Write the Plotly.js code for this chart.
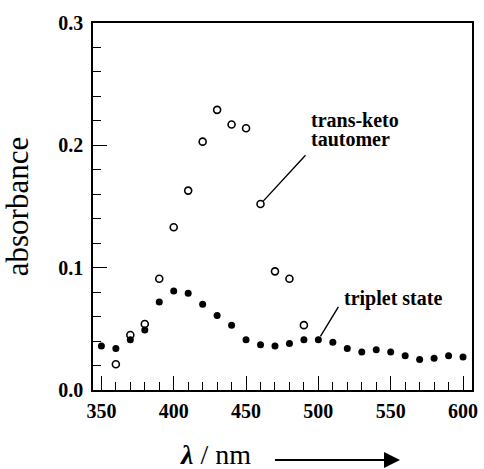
<!DOCTYPE html>
<html>
<head>
<meta charset="utf-8">
<script src="https://cdn.plot.ly/plotly-3.0.1.min.js"></script>
<style>html,body{margin:0;padding:0;background:#fff}</style>
</head>
<body>
<div id="chart" style="width:484px;height:469px"></div>
<script>
// wavelengths (nm) and absorbances
const tripletWavelength = [350,360,370,380,390,400,410,420,430,440,450,460,470,480,490,500,510,520,530,540,550,560,570,580,590,600];
const tripletAbsorbance = [0.036,0.034,0.041,0.049,0.072,0.081,0.079,0.070,0.061,0.053,0.041,0.037,0.036,0.038,0.041,0.041,0.039,0.034,0.031,0.033,0.031,0.028,0.025,0.026,0.028,0.027];
const ketoWavelength = [360,370,380,390,400,410,420,430,440,450,460,470,480,490];
const ketoAbsorbance = [0.021,0.045,0.054,0.091,0.133,0.163,0.203,0.229,0.217,0.214,0.152,0.097,0.091,0.053];
const xTick = {start: 350, major: 50, minor: 10};
const yTick = {start: 0, major: 0.1, minor: 0.02, format: '.1f'};
const xRange = [344.2, 606.2];
const yRange = [0, 0.3];

const ink = 'black';
const serif = 'Liberation Serif, Times New Roman, serif';

const traces = [
  {
    x: tripletWavelength, y: tripletAbsorbance, type: 'scatter', mode: 'markers',
    name: 'triplet state', xaxis: 'x', yaxis: 'y',
    marker: {symbol: 'circle', size: 7, color: ink}
  },
  {
    x: ketoWavelength, y: ketoAbsorbance, type: 'scatter', mode: 'markers',
    name: 'trans-keto tautomer', xaxis: 'x2', yaxis: 'y2',
    marker: {symbol: 'circle-open', size: 7, color: ink, line: {width: 1.6, color: ink}}
  }
];

function axis(extra) {
  return Object.assign({
    showgrid: false, zeroline: false, showline: false,
    ticks: 'inside', tickwidth: 1.3, tickcolor: ink, showticklabels: false,
    tickfont: {family: serif, size: 20, color: ink, weight: 'bold'}
  }, extra);
}

const layout = {
  width: 484, height: 469,
  margin: {l: 93, r: 12, t: 23, b: 79},
  paper_bgcolor: '#ffffff', plot_bgcolor: '#ffffff',
  showlegend: false,
  // main axes: frame, labelled major ticks
  xaxis: axis({
    range: xRange, showline: true, linecolor: ink, linewidth: 1.5, mirror: true,
    tickmode: 'linear', tick0: xTick.start, dtick: xTick.major, ticklen: 14,
    showticklabels: true, ticklabelstandoff: 2
  }),
  yaxis: axis({
    range: yRange, showline: true, linecolor: ink, linewidth: 1.5, mirror: true,
    tickmode: 'linear', tick0: yTick.start, dtick: yTick.major, tickformat: yTick.format, ticklen: 14,
    showticklabels: true, ticklabelstandoff: 4,
    title: {text: 'absorbance', font: {family: serif, size: 31, color: ink}, standoff: 20}
  }),
  // minor ticks, bottom / left
  xaxis2: axis({range: xRange, overlaying: 'x', anchor: 'y2', side: 'bottom',
    tickmode: 'linear', tick0: xTick.start, dtick: xTick.minor, ticklen: 8}),
  yaxis2: axis({range: yRange, overlaying: 'y', anchor: 'x2', side: 'left',
    tickmode: 'linear', tick0: yTick.start, dtick: yTick.minor, ticklen: 8}),
  // minor and major ticks, top / right
  xaxis3: axis({range: xRange, overlaying: 'x', anchor: 'y', side: 'top',
    tickmode: 'linear', tick0: xTick.start, dtick: xTick.minor, ticklen: 8}),
  xaxis4: axis({range: xRange, overlaying: 'x', anchor: 'y', side: 'top',
    tickmode: 'linear', tick0: xTick.start, dtick: xTick.major, ticklen: 14}),
  yaxis3: axis({range: yRange, overlaying: 'y', anchor: 'x', side: 'right',
    tickmode: 'linear', tick0: yTick.start, dtick: yTick.minor, ticklen: 8}),
  yaxis4: axis({range: yRange, overlaying: 'y', anchor: 'x', side: 'right',
    tickmode: 'linear', tick0: yTick.start, dtick: yTick.major, ticklen: 14}),
  annotations: [
    {xref: 'paper', yref: 'paper', x: 0.5726, y: 0.7357, xanchor: 'left', yanchor: 'middle', borderpad: 0,
     text: '<b>trans-keto</b>', showarrow: false, font: {family: serif, size: 20, color: ink}},
    {xref: 'paper', yref: 'paper', x: 0.5726, y: 0.6839, xanchor: 'left', yanchor: 'middle', borderpad: 0,
     text: '<b>tautomer</b>', showarrow: false, font: {family: serif, size: 20, color: ink}},
    {xref: 'paper', yref: 'paper', x: 0.657, y: 0.248, xanchor: 'left', yanchor: 'middle',
     text: '<b>triplet state</b>', showarrow: false, font: {family: serif, size: 20, color: ink}},
    {x: ketoWavelength[10], y: ketoAbsorbance[10], xref: 'x', yref: 'y', text: ' ',
     showarrow: true, arrowhead: 0, arrowwidth: 1.4, arrowcolor: ink,
     axref: 'pixel', ayref: 'pixel', ax: 48, ay: -52, standoff: 4},
    {x: tripletWavelength[15], y: tripletAbsorbance[15], xref: 'x', yref: 'y', text: ' ',
     showarrow: true, arrowhead: 0, arrowwidth: 1.4, arrowcolor: ink,
     axref: 'pixel', ayref: 'pixel', ax: 23, ay: -38, standoff: 4},
    {xref: 'paper', yref: 'paper', x: 0.3245, y: -0.177, xanchor: 'center', yanchor: 'middle',
     text: '<b><i>λ</i></b> / nm', showarrow: false, font: {family: serif, size: 28, color: ink}},
    {xref: 'paper', yref: 'paper', x: 0.81, y: -0.1907, text: ' ',
     showarrow: true, arrowhead: 2, arrowsize: 1.6, arrowwidth: 2, arrowcolor: ink,
     axref: 'pixel', ayref: 'pixel', ax: -128, ay: 0}
  ]
};

Plotly.newPlot('chart', traces, layout, {displayModeBar: false});
</script>
</body>
</html>
